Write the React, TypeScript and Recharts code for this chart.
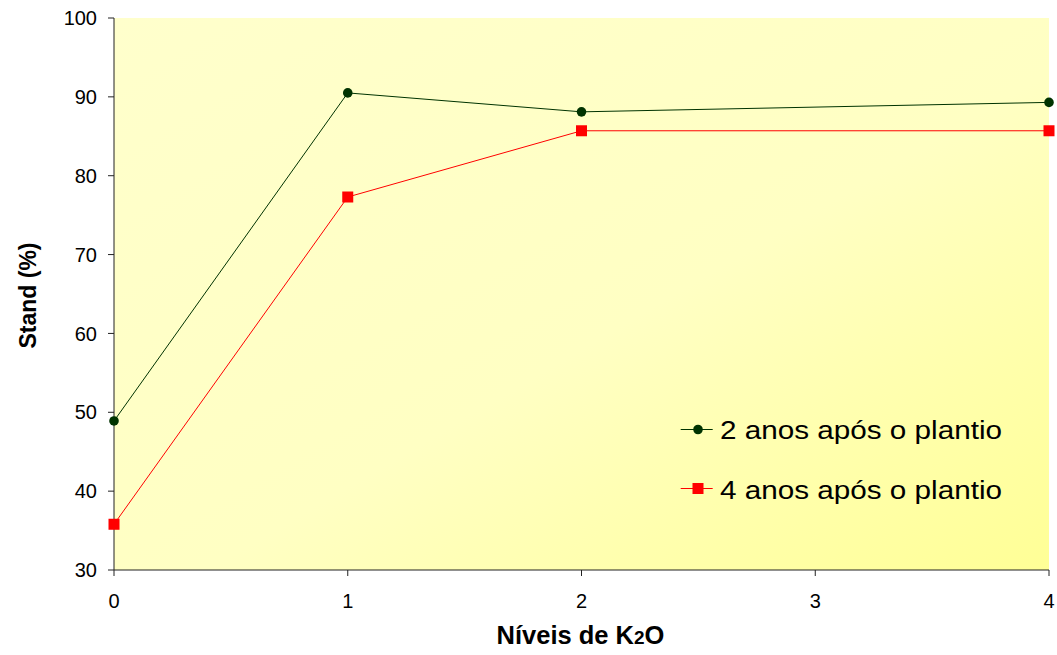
import * as React from "react";
import { LineChart, Line, XAxis, YAxis, CartesianGrid, Legend } from "recharts";

const FONT = "Arial, 'Liberation Sans', sans-serif";

const levels = ["0", "1", "2", "3", "4"];
const twoYears = [48.9, 90.5, 88.1, null, 89.3];
const fourYears = [35.8, 77.3, 85.7, null, 85.7];
const yTicks = [30, 40, 50, 60, 70, 80, 90, 100];

const data = levels.map((x, i) => ({ x, a: twoYears[i], b: fourYears[i] }));

const GREEN = "#003300";
const RED = "#ff0000";

function SquareDot(props: any) {
  const { cx, cy, index } = props;
  if (cx == null || cy == null) return <g key={index} />;
  return <rect key={index} x={cx - 5.5} y={cy - 5.5} width={11} height={11} fill={RED} />;
}

function RoundDot(props: any) {
  const { cx, cy, index } = props;
  if (cx == null || cy == null) return <g key={index} />;
  return <circle key={index} cx={cx} cy={cy} r={4.8} fill={GREEN} />;
}

// legend drawn as svg so the text width can be pinned to the reference
function LegendBox() {
  const rows = [
    { name: "2 anos após o plantio", color: GREEN, square: false, y: 29.5, base: 38.5 },
    { name: "4 anos após o plantio", color: RED, square: true, y: 88.5, base: 99 },
  ];
  return (
    <svg width={380} height={120} style={{ fontFamily: FONT, display: "block" }}>
      {rows.map((r) => (
        <g key={r.name}>
          <line x1={8.7} y1={r.y} x2={40.7} y2={r.y} stroke={r.color} strokeWidth={1} />
          {r.square ? (
            <rect x={20.5} y={r.y - 5.5} width={11} height={11} fill={r.color} />
          ) : (
            <circle cx={26} cy={r.y} r={4.8} fill={r.color} />
          )}
          <text x={48} y={r.base} fontSize={25} fill="#000" textLength={282} lengthAdjust="spacingAndGlyphs">
            {r.name}
          </text>
        </g>
      ))}
    </svg>
  );
}

export default function App() {
  return (
    <div style={{ position: "absolute", left: 0, top: 0, width: 1057, height: 655, background: "#fff" }}>
      <LineChart
        width={1057}
        height={655}
        data={data}
        margin={{ top: 18, right: 8, left: 0, bottom: 0 }}
        style={{ fontFamily: FONT }}
      >
        <defs>
          <linearGradient id="plotBg" x1="0" y1="0" x2="1" y2="1">
            <stop offset="0" stopColor="#ffffcc" />
            <stop offset="0.55" stopColor="#ffffc3" />
            <stop offset="1" stopColor="#ffff96" />
          </linearGradient>
        </defs>
        <CartesianGrid fill="url(#plotBg)" horizontal={false} vertical={false} />
        <XAxis
          dataKey="x"
          height={85}
          tickSize={6}
          tickMargin={18}
          fontSize={20}
          axisLine={{ stroke: "#222" }}
          tickLine={{ stroke: "#222" }}
          tick={{ fontSize: 20, fill: "#000" }}
          interval={0}
          label={{
            content: () => (
              <text x={580.5} y={643.5} textAnchor="middle" fontSize={25.5} fontWeight="bold" fill="#000">
                Níveis de K
                <tspan fontSize={19}>2</tspan>
                O
              </text>
            ),
          }}
        />
        <YAxis
          width={114}
          domain={[30, 100]}
          ticks={yTicks}
          tickSize={6}
          tickMargin={11}
          fontSize={20}
          axisLine={{ stroke: "#222" }}
          tickLine={{ stroke: "#222" }}
          tick={{ fontSize: 20, fill: "#000" }}
          label={{
            content: () => (
              <text
                x={36}
                y={295.5}
                transform="rotate(-90, 36, 295.5)"
                textAnchor="middle"
                fontSize={23}
                fontWeight="bold"
                fill="#000"
              >
                Stand (%)
              </text>
            ),
          }}
        />
        <Legend
          layout="vertical"
          align="center"
          verticalAlign="middle"
          wrapperStyle={{ left: 672, top: 400, width: 380, height: 120 }}
          content={() => <LegendBox />}
        />
        <Line
          dataKey="a"
          name="2 anos após o plantio"
          stroke={GREEN}
          strokeWidth={1}
          connectNulls
          dot={<RoundDot />}
          activeDot={false}
          isAnimationActive={false}
        />
        <Line
          dataKey="b"
          name="4 anos após o plantio"
          stroke={RED}
          strokeWidth={1}
          connectNulls
          dot={<SquareDot />}
          activeDot={false}
          isAnimationActive={false}
        />
      </LineChart>
    </div>
  );
}
